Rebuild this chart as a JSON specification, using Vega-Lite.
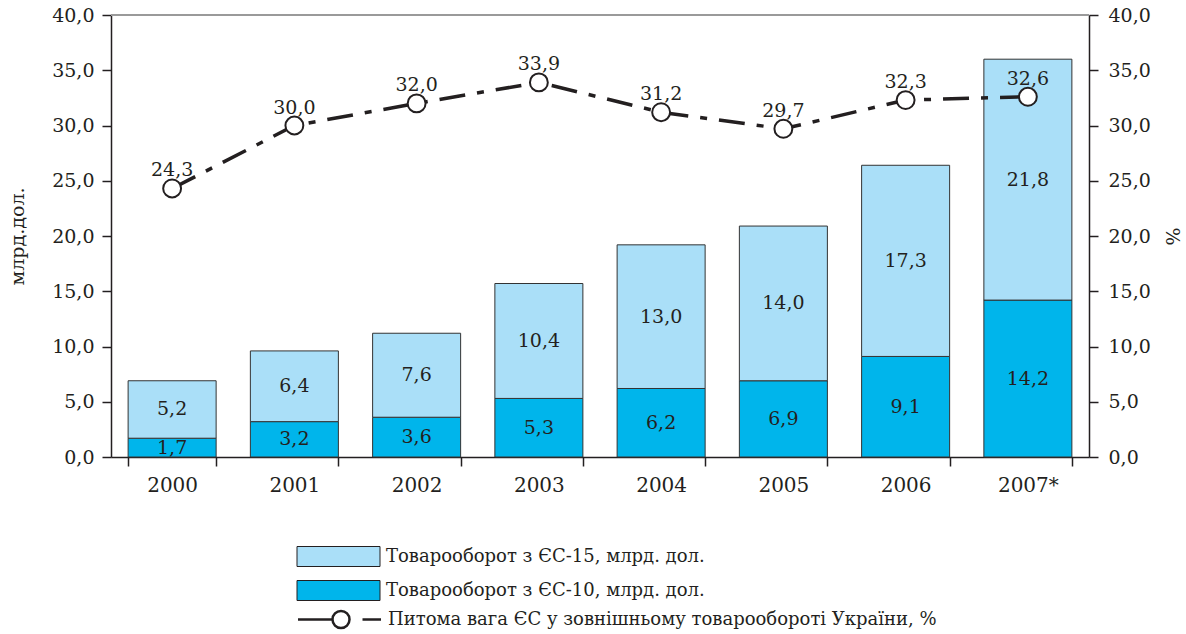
{
  "$schema": "https://vega.github.io/schema/vega-lite/v6.json",
  "width": 978,
  "height": 442,
  "autosize": {"type": "none"},
  "padding": {"left": 111, "top": 15, "right": 97, "bottom": 177},
  "background": "white",
  "config": {
    "locale": {"number": {"decimal": ",", "thousands": " ", "grouping": [3], "currency": ["", ""]}},
    "view": {"stroke": null},
    "font": "DejaVu Serif",
    "axis": {
      "labelFont": "DejaVu Serif", "titleFont": "DejaVu Serif",
      "labelColor": "#231F20", "titleColor": "#231F20",
      "domainColor": "#231F20", "tickColor": "#231F20",
      "labelFontSize": 19, "titleFontSize": 19, "titleFontWeight": "normal",
      "grid": false, "domainWidth": 1.5, "tickWidth": 1.5
    }
  },
  "datasets": {
    "trade": [
      {"year": "2000", "series": "Товарооборот з ЄС-10,  млрд. дол.", "order": 1, "value": 1.7},
      {"year": "2000", "series": "Товарооборот з ЄС-15,  млрд. дол.", "order": 2, "value": 5.2},
      {"year": "2001", "series": "Товарооборот з ЄС-10,  млрд. дол.", "order": 1, "value": 3.2},
      {"year": "2001", "series": "Товарооборот з ЄС-15,  млрд. дол.", "order": 2, "value": 6.4},
      {"year": "2002", "series": "Товарооборот з ЄС-10,  млрд. дол.", "order": 1, "value": 3.6},
      {"year": "2002", "series": "Товарооборот з ЄС-15,  млрд. дол.", "order": 2, "value": 7.6},
      {"year": "2003", "series": "Товарооборот з ЄС-10,  млрд. дол.", "order": 1, "value": 5.3},
      {"year": "2003", "series": "Товарооборот з ЄС-15,  млрд. дол.", "order": 2, "value": 10.4},
      {"year": "2004", "series": "Товарооборот з ЄС-10,  млрд. дол.", "order": 1, "value": 6.2},
      {"year": "2004", "series": "Товарооборот з ЄС-15,  млрд. дол.", "order": 2, "value": 13.0},
      {"year": "2005", "series": "Товарооборот з ЄС-10,  млрд. дол.", "order": 1, "value": 6.9},
      {"year": "2005", "series": "Товарооборот з ЄС-15,  млрд. дол.", "order": 2, "value": 14.0},
      {"year": "2006", "series": "Товарооборот з ЄС-10,  млрд. дол.", "order": 1, "value": 9.1},
      {"year": "2006", "series": "Товарооборот з ЄС-15,  млрд. дол.", "order": 2, "value": 17.3},
      {"year": "2007*", "series": "Товарооборот з ЄС-10,  млрд. дол.", "order": 1, "value": 14.2},
      {"year": "2007*", "series": "Товарооборот з ЄС-15,  млрд. дол.", "order": 2, "value": 21.8}
    ],
    "share": [
      {"year": "2000", "share": 24.3},
      {"year": "2001", "share": 30.0},
      {"year": "2002", "share": 32.0},
      {"year": "2003", "share": 33.9},
      {"year": "2004", "share": 31.2},
      {"year": "2005", "share": 29.7},
      {"year": "2006", "share": 32.3},
      {"year": "2007*", "share": 32.6}
    ]
  },
  "layer": [
    {
      "data": {"name": "trade"},
      "transform": [
        {"stack": "value", "groupby": ["year"], "sort": [{"field": "order", "order": "ascending"}], "as": ["v0", "v1"]},
        {"calculate": "(datum.v0 + datum.v1) / 2", "as": "mid"}
      ],
      "layer": [
        {
          "mark": {"type": "bar", "stroke": "#333333", "strokeWidth": 1},
          "encoding": {
            "x": {
              "field": "year", "type": "ordinal",
              "scale": {"paddingInner": 0.28, "paddingOuter": 0.14},
              "axis": {"title": null, "labelAngle": 0, "tickBand": "extent", "tickSize": 9, "labelPadding": 9, "labelFontSize": 20}
            },
            "y": {
              "field": "v0", "type": "quantitative",
              "scale": {"domain": [0, 40], "nice": false},
              "axis": {"title": "млрд.дол.", "values": [0, 5, 10, 15, 20, 25, 30, 35, 40], "format": ".1f", "tickSize": 9, "labelPadding": 8, "titlePadding": 24}
            },
            "y2": {"field": "v1"},
            "fill": {
              "field": "series", "type": "nominal",
              "scale": {"domain": ["Товарооборот з ЄС-15,  млрд. дол.", "Товарооборот з ЄС-10,  млрд. дол."], "range": ["#AADFF8", "#00B5EB"]},
              "legend": {
                "orient": "none", "legendX": 217, "legendY": 531, "direction": "vertical",
                "title": null, "padding": 0,
                "symbolType": "M-4.15,-1H4.15V1H-4.15Z", "symbolSize": 400,
                "symbolStrokeColor": "#231F20", "symbolStrokeWidth": 1,
                "labelFont": "DejaVu Serif", "labelFontSize": 18, "labelColor": "#231F20",
                "labelOffset": 37, "rowPadding": 9, "labelLimit": 700
              }
            }
          }
        },
        {
          "mark": {"type": "text", "fontSize": 19, "color": "#231F20", "baseline": "middle"},
          "encoding": {
            "x": {"field": "year", "type": "ordinal"},
            "y": {"field": "mid", "type": "quantitative"},
            "text": {"field": "value", "type": "quantitative", "format": ".1f"}
          }
        },
        {
          "mark": {"type": "rule", "color": "#9a9a9a", "strokeWidth": 1.5},
          "encoding": {"y": {"datum": 40}}
        }
      ]
    },
    {
      "data": {"name": "share"},
      "encoding": {
        "x": {"field": "year", "type": "ordinal"},
        "y": {
          "field": "share", "type": "quantitative",
          "scale": {"domain": [0, 40], "nice": false},
          "axis": {"orient": "right", "title": "%", "values": [0, 5, 10, 15, 20, 25, 30, 35, 40], "format": ".1f", "tickSize": 9, "labelPadding": 10, "titlePadding": 11}
        }
      },
      "layer": [
        {
          "mark": {"type": "line", "strokeDash": [26, 12, 7, 12], "strokeWidth": 3.5},
          "encoding": {
            "stroke": {
              "datum": "Питома вага ЄС у зовнішньому товарообороті України,  %",
              "scale": {"range": ["#231F20"]},
              "legend": {
                "orient": "none", "legendX": 217, "legendY": 593, "title": null, "padding": 0,
                "symbolType": "M-4.15,0H-0.7M-0.7,0A0.85,0.85 0 1,1 1,0A0.85,0.85 0 1,1 -0.7,0M2.3,0H4.15",
                "symbolSize": 400, "symbolStrokeWidth": 2.5, "symbolFillColor": "white", "symbolDash": [],
                "labelFont": "DejaVu Serif", "labelFontSize": 18, "labelColor": "#231F20",
                "labelOffset": 37, "labelLimit": 700
              }
            }
          }
        },
        {
          "mark": {"type": "point", "shape": "circle", "filled": true, "fill": "white", "stroke": "#231F20", "strokeWidth": 2, "size": 320, "opacity": 1}
        },
        {
          "mark": {"type": "text", "dy": -12, "baseline": "alphabetic", "fontSize": 19, "color": "#231F20"},
          "encoding": {"text": {"field": "share", "type": "quantitative", "format": ".1f"}}
        }
      ]
    }
  ],
  "resolve": {"scale": {"y": "independent"}}
}
